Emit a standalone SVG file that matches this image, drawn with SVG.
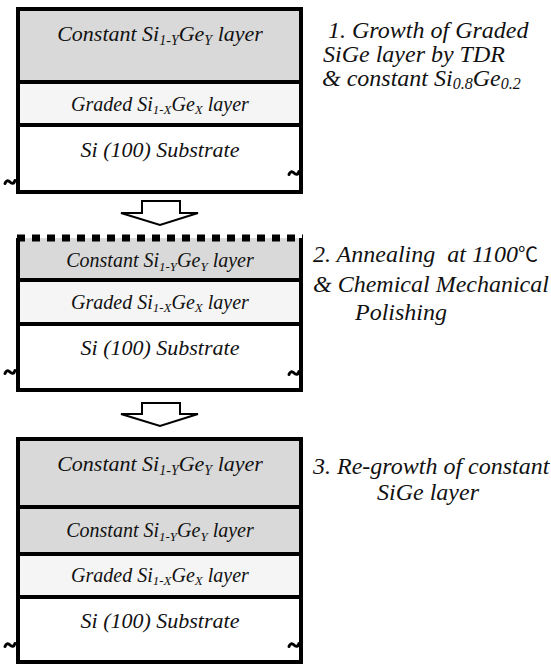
<svg xmlns="http://www.w3.org/2000/svg" width="551" height="664" viewBox="0 0 551 664">
<style>
text{font-family:"Liberation Serif","Times New Roman",serif;}
.lbl{font-style:italic;fill:#111;}
.big{font-size:22px;}
.mid{font-size:20px;}
.sm{font-size:20px;}
.side{font-style:italic;font-size:24px;fill:#111;}
.edge{fill:none;stroke:#000;stroke-width:4;}
.cst{fill:#d9d9d9;}
.grd{fill:#f5f5f5;}
.sub{fill:#fff;}
.til{fill:none;stroke:#000;stroke-width:3;stroke-linecap:round;}
.arr{fill:#fff;stroke:#000;stroke-width:2;stroke-linejoin:miter;}
</style>
<defs>
  <path id="tilde" class="til" d="M-5,1.5 C-4,-1.5 -2,-2 0,0 S4,1.8 5,-1.5"/>
</defs>

<g id="block1">
  <g id="b1-constant">
    <rect class="cst" x="18" y="9" width="283" height="73"/>
    <text class="lbl big" x="160" y="41" text-anchor="middle">Constant Si<tspan font-size="14" dy="4">1-Y</tspan><tspan dy="-4">Ge</tspan><tspan font-size="14" dy="4">Y</tspan><tspan dy="-4"> layer</tspan></text>
  </g>
  <g id="b1-graded">
    <rect class="grd" x="18" y="82" width="283" height="43"/>
    <text class="lbl sm" x="160" y="111" text-anchor="middle">Graded Si<tspan font-size="13" dy="3">1-X</tspan><tspan dy="-3">Ge</tspan><tspan font-size="13" dy="3">X</tspan><tspan dy="-3"> layer</tspan></text>
  </g>
  <g id="b1-substrate">
    <rect class="sub" x="18" y="125" width="283" height="67"/>
    <text class="lbl big" x="160" y="157" text-anchor="middle">Si (100) Substrate</text>
  </g>
  <rect class="edge" x="18" y="9" width="283" height="183"/>
  <line class="edge" x1="18" y1="82" x2="301" y2="82"/>
  <line class="edge" x1="18" y1="125" x2="301" y2="125"/>
  <use href="#tilde" x="10" y="182"/>
  <use href="#tilde" x="294" y="173"/>
</g>

<g id="block2">
  <g id="b2-constant">
    <rect class="cst" x="18" y="238" width="283" height="42"/>
    <text class="lbl mid" x="160" y="267" text-anchor="middle">Constant Si<tspan font-size="13" dy="4">1-Y</tspan><tspan dy="-4">Ge</tspan><tspan font-size="13" dy="4">Y</tspan><tspan dy="-4"> layer</tspan></text>
  </g>
  <g id="b2-graded">
    <rect class="grd" x="18" y="280" width="283" height="44"/>
    <text class="lbl sm" x="160" y="309" text-anchor="middle">Graded Si<tspan font-size="13" dy="3">1-X</tspan><tspan dy="-3">Ge</tspan><tspan font-size="13" dy="3">X</tspan><tspan dy="-3"> layer</tspan></text>
  </g>
  <g id="b2-substrate">
    <rect class="sub" x="18" y="324" width="283" height="66"/>
    <text class="lbl big" x="160" y="355" text-anchor="middle">Si (100) Substrate</text>
  </g>
  <path class="edge" d="M18,238 V390 H301 V238"/>
  <line class="edge" x1="18" y1="280" x2="301" y2="280"/>
  <line class="edge" x1="18" y1="324" x2="301" y2="324"/>
  <line x1="17" y1="238" x2="303" y2="238" stroke="#000" stroke-width="7" stroke-dasharray="8 7"/>
  <use href="#tilde" x="10" y="372"/>
  <use href="#tilde" x="294" y="373"/>
</g>

<g id="block3">
  <g id="b3-constant-top">
    <rect class="cst" x="18" y="439" width="283" height="68"/>
    <text class="lbl big" x="160" y="471" text-anchor="middle">Constant Si<tspan font-size="14" dy="4">1-Y</tspan><tspan dy="-4">Ge</tspan><tspan font-size="14" dy="4">Y</tspan><tspan dy="-4"> layer</tspan></text>
  </g>
  <g id="b3-constant">
    <rect class="cst" x="18" y="507" width="283" height="47"/>
    <text class="lbl mid" x="160" y="537" text-anchor="middle">Constant Si<tspan font-size="13" dy="4">1-Y</tspan><tspan dy="-4">Ge</tspan><tspan font-size="13" dy="4">Y</tspan><tspan dy="-4"> layer</tspan></text>
  </g>
  <g id="b3-graded">
    <rect class="grd" x="18" y="554" width="283" height="43"/>
    <text class="lbl sm" x="160" y="582" text-anchor="middle">Graded Si<tspan font-size="13" dy="3">1-X</tspan><tspan dy="-3">Ge</tspan><tspan font-size="13" dy="3">X</tspan><tspan dy="-3"> layer</tspan></text>
  </g>
  <g id="b3-substrate">
    <rect class="sub" x="18" y="597" width="283" height="65"/>
    <text class="lbl big" x="160" y="628" text-anchor="middle">Si (100) Substrate</text>
  </g>
  <rect class="edge" x="18" y="439" width="283" height="223"/>
  <line class="edge" x1="18" y1="507" x2="301" y2="507"/>
  <line class="edge" x1="18" y1="554" x2="301" y2="554"/>
  <line class="edge" x1="18" y1="597" x2="301" y2="597"/>
  <use href="#tilde" x="10" y="645"/>
  <use href="#tilde" x="294" y="645"/>
</g>

<g id="connectors">
  <polygon class="arr" points="142,201 180,201 180,213 198,213 160,225 121,213 142,213"/>
  <polygon class="arr" points="142,403 180,403 180,414 198,414 160,426 121,414 142,414"/>
</g>

<g id="notes">
  <text class="side" x="328" y="38">1. Growth of Graded</text>
  <text class="side" x="323" y="62">SiGe layer  by TDR</text>
  <text class="side" x="322" y="86">&amp; constant Si<tspan font-size="16" dy="3">0.8</tspan><tspan dy="-3">Ge</tspan><tspan font-size="16" dy="3">0.2</tspan></text>
  <text class="side" x="313" y="262" font-size="22">2. Annealing&#160; at 1100<tspan font-style="normal" font-size="20" font-family="'Noto Sans CJK JP',serif">℃</tspan></text>
  <text class="side" x="313" y="292">&amp; Chemical Mechanical</text>
  <text class="side" x="355" y="320">Polishing</text>
  <text class="side" x="313" y="474">3. Re-growth of constant</text>
  <text class="side" x="377" y="500">SiGe layer</text>
</g>
</svg>
